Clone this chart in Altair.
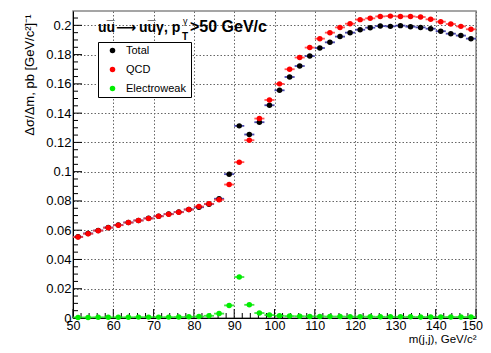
import altair as alt
import pandas as pd

# ---- data ----
bin_centers = [51.25, 53.75, 56.25, 58.75, 61.25, 63.75, 66.25, 68.75, 71.25, 73.75,
               76.25, 78.75, 81.25, 83.75, 86.25, 88.75, 91.25, 93.75, 96.25, 98.75,
               101.25, 103.75, 106.25, 108.75, 111.25, 113.75, 116.25, 118.75, 121.25, 123.75,
               126.25, 128.75, 131.25, 133.75, 136.25, 138.75, 141.25, 143.75, 146.25, 148.75]
bin_half = 1.25

total = [0.0555, 0.0578, 0.0598, 0.0618, 0.0635, 0.0653, 0.0667, 0.0681, 0.0696, 0.0710,
         0.0724, 0.0742, 0.0757, 0.0778, 0.0815, 0.0983, 0.1313, 0.1254, 0.1338, 0.1454,
         0.1556, 0.1647, 0.1722, 0.1790, 0.1845, 0.1884, 0.1923, 0.1950, 0.1970, 0.1984,
         0.1995, 0.1993, 0.1998, 0.1991, 0.1986, 0.1977, 0.1960, 0.1943, 0.1930, 0.1909]

qcd = [0.0553, 0.0576, 0.0597, 0.0617, 0.0634, 0.0652, 0.0666, 0.0680, 0.0695, 0.0709,
       0.0723, 0.0741, 0.0762, 0.0780, 0.0808, 0.0912, 0.1065, 0.1215, 0.1363, 0.1490,
       0.1600, 0.1700, 0.1780, 0.1848, 0.1909, 0.1950, 0.1986, 0.2011, 0.2039, 0.2048,
       0.2061, 0.2063, 0.2061, 0.2061, 0.2057, 0.2041, 0.2025, 0.2009, 0.1993, 0.1973]

electroweak = [0.0004, 0.0004, 0.0005, 0.0005, 0.0005, 0.0005, 0.0006, 0.0006, 0.0006, 0.0006,
               0.0007, 0.0008, 0.0010, 0.0015, 0.0030, 0.0086, 0.0280, 0.0090, 0.0034, 0.0020,
               0.0015, 0.0013, 0.0012, 0.0011, 0.0011, 0.0010, 0.0010, 0.0009, 0.0009, 0.0009,
               0.0008, 0.0008, 0.0008, 0.0008, 0.0007, 0.0007, 0.0007, 0.0007, 0.0007, 0.0007]

series_names = ["Total", "QCD", "Electroweak"]
series_colors = ["#000000", "#ff0000", "#00ee00"]
bar_colors = ["#2a2aa0", "#ff3a3a", "#22dd22"]

x_major = [50, 60, 70, 80, 90, 100, 110, 120, 130, 140, 150]
y_major = [0, 0.02, 0.04, 0.06, 0.08, 0.1, 0.12, 0.14, 0.16, 0.18, 0.2]

W, H = 403, 307
FONT = "Liberation Sans"

# ---- tables ----
rows = []
for name, vals in zip(series_names, [total, qcd, electroweak]):
    for c, v in zip(bin_centers, vals):
        rows.append({"series": name, "x": c, "x0": c - bin_half, "x1": c + bin_half, "y": v})
df = pd.DataFrame(rows)

x_minor = [v / 10 for v in range(500, 1501, 20) if v % 100 != 0]
y_minor = [v / 1000 for v in range(0, 206, 5) if v % 20 != 0]
xmaj_df = pd.DataFrame({"x": x_major})
xmin_df = pd.DataFrame({"x": x_minor})
ymaj_df = pd.DataFrame({"y": y_major})
ymin_df = pd.DataFrame({"y": y_minor})

xs = alt.Scale(domain=[50, 150], nice=False, zero=False)
ys = alt.Scale(domain=[0, 0.2098], nice=False, zero=False)

xaxis = alt.Axis(values=x_major, format="d", title="m(j,j), GeV/c²", labelFlush=False,
                 labelOverlap=False, ticks=False, labelPadding=1, labelFontSize=12.5,
                 labelOffset=alt.ExprRef(expr="datum.value == 150 ? -4 : 0"),
                 labelFont=FONT, labelColor="black", titleFont=FONT, titleFontSize=11.5,
                 titleFontWeight="normal", titleColor="black", titleAnchor="end",
                 titleAlign="right", titleX=W, titleY=24.5, titleBaseline="alphabetic",
                 domainColor="black", grid=True, gridColor="#666", gridDash=[1.5, 2])
yaxis = alt.Axis(values=y_major, format=".2~f", title="Δσ/Δm, pb [GeV/c²]⁻¹", labelFlush=False,
                 labelOverlap=False, ticks=False, labelPadding=2, labelFontSize=13,
                 labelFont=FONT, labelColor="black", titleFont=FONT, titleFontSize=13,
                 titleFontWeight="normal", titleColor="black", titleAngle=270,
                 titleAlign="right", titleBaseline="middle", titleX=-44, titleY=3,
                 domainColor="black", grid=True, gridColor="#666", gridDash=[1.5, 2])

X = lambda f: alt.X(f, type="quantitative", scale=xs, axis=xaxis)
Y = lambda f: alt.Y(f, type="quantitative", scale=ys, axis=yaxis)

layers = []
# inward ticks
layers.append(alt.Chart(xmaj_df).mark_rule(color="black").encode(x=X("x"), y=alt.value(H), y2=alt.value(H - 9)))
layers.append(alt.Chart(xmin_df).mark_rule(color="black").encode(x=X("x"), y=alt.value(H), y2=alt.value(H - 5)))
layers.append(alt.Chart(ymaj_df).mark_rule(color="black").encode(y=Y("y"), x=alt.value(0), x2=alt.value(9)))
layers.append(alt.Chart(ymin_df).mark_rule(color="black").encode(y=Y("y"), x=alt.value(0), x2=alt.value(5)))

# error bars (bin width)
for name, bc in zip(series_names, bar_colors):
    layers.append(
        alt.Chart(df[df.series == name]).mark_rule(color=bc, strokeWidth=1.8, opacity=0.85)
        .encode(x=X("x0"), x2=alt.X2("x1"), y=Y("y"))
    )

# markers
layers.append(
    alt.Chart(df).mark_point(filled=True, shape="circle", size=30, opacity=1)
    .encode(
        x=X("x"), y=Y("y"),
        color=alt.Color("series:N", scale=alt.Scale(domain=series_names, range=series_colors),
                        legend=alt.Legend(title="\u2003", titleOrient="right", titleFontSize=8,
                                          titlePadding=2, orient="none", legendX=25, legendY=31,
                                          strokeColor="black", fillColor="white", padding=3,
                                          rowPadding=7, symbolType="circle", symbolSize=30,
                                          symbolStrokeWidth=0, labelFont=FONT, labelFontSize=11,
                                          labelColor="black", labelOffset=8, symbolOffset=6)),
        order=alt.Order("order:Q"),
    ).transform_calculate(order="datum.series == 'Total' ? 0 : (datum.series == 'QCD' ? 1 : 2)")
)

# header text
def txt(s, x, y, size, weight="bold", font=FONT):
    return alt.Chart(pd.DataFrame({"t": [s]})).mark_text(
        align="left", baseline="alphabetic", font=font, fontSize=size, fontWeight=weight, color="black"
    ).encode(text="t:N", x=alt.value(x), y=alt.value(y))

layers.append(txt("uu\u0305", 25, 21, 14))
layers.append(txt("\u27f6", 43, 21, 14, "bold", "DejaVu Sans"))
layers.append(txt("uu\u0305\u03b3, p", 66, 21, 14))
layers.append(txt("\u03b3", 110, 13, 9, "normal"))
layers.append(txt("T", 109, 29, 10))
layers.append(txt(">50 GeV/c", 117, 21, 16))

chart = alt.layer(*layers).properties(
    width=W, height=H,
    autosize=alt.AutoSizeParams(type="none"),
    padding={"left": 65, "top": 3, "right": 7, "bottom": 27},
    background="white",
).configure_view(stroke="#888", strokeWidth=1.5, fill="white")

chart.save("out.html", embed_options={"renderer": "svg", "actions": False})
